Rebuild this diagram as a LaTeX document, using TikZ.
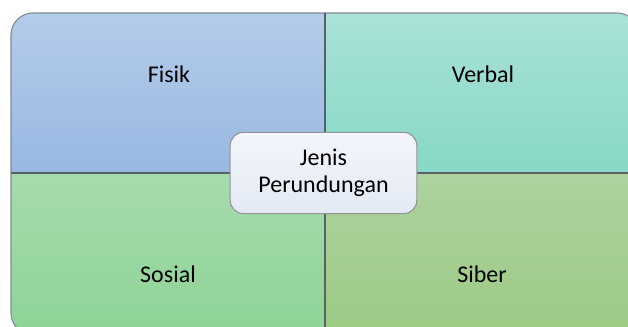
\documentclass[tikz,border=0pt]{standalone}
\usepackage{fontspec}
\setmainfont{Carlito}
\definecolor{fisiktop}{HTML}{B4CCEA}
\definecolor{fisikbot}{HTML}{98B8E2}
\definecolor{verbaltop}{HTML}{AAE2D8}
\definecolor{verbalbot}{HTML}{86D8C6}
\definecolor{sosialtop}{HTML}{A6DAAE}
\definecolor{sosialbot}{HTML}{8ED496}
\definecolor{sibertop}{HTML}{AED29E}
\definecolor{siberbot}{HTML}{9CCA84}
\definecolor{jenistop}{HTML}{F3F6FB}
\definecolor{jenisbot}{HTML}{E3E9F4}
\definecolor{edgegray}{HTML}{7F8A94}
\tikzset{
	quadtext/.style={font=\fontsize{18}{20.7}\selectfont, text=black},
	centerbox/.style={draw=gray!85, line width=0.8pt, rounded corners=10pt, top color=jenistop, bottom color=jenisbot, align=center, minimum width=140pt, minimum height=61pt, font=\fontsize{18}{20.7}\selectfont}
}
\begin{document}
\begin{tikzpicture}[x=0.75pt, y=-0.75pt]
	\useasboundingbox (0,0) rectangle (628,327);
	\clip (0,0) rectangle (628,327);
	
	% four quarters, cut to the rounded outline
	\begin{scope}
	\clip[rounded corners=16.5pt] (11,13) rectangle (639,335);
	\shade[top color=fisiktop, bottom color=fisikbot] (11,13) rectangle (325,173);
	\shade[top color=verbaltop, bottom color=verbalbot] (325,13) rectangle (639,173);
	\shade[top color=sosialtop, bottom color=sosialbot] (11,173) rectangle (325,335);
	\shade[top color=sibertop, bottom color=siberbot] (325,173) rectangle (639,335);
	\end{scope}
	
	\draw[edgegray, line width=0.8pt, rounded corners=16.5pt] (11,13) rectangle (639,335);
	\draw[edgegray!70!black, line width=1pt] (325,13) -- (325,335);
	\draw[edgegray!70!black, line width=1pt] (11,173) -- (639,173);
	
	\node[quadtext] (fisik) at (169,74) {Fisik};
	\node[quadtext] (verbal) at (483,74) {Verbal};
	\node[quadtext] (sosial) at (168,274) {Sosial};
	\node[quadtext] (siber) at (482,274) {Siber};
	
	\node[centerbox] (jenis) at (323.5,173) {Jenis\\Perundungan};
\end{tikzpicture}
\end{document}
